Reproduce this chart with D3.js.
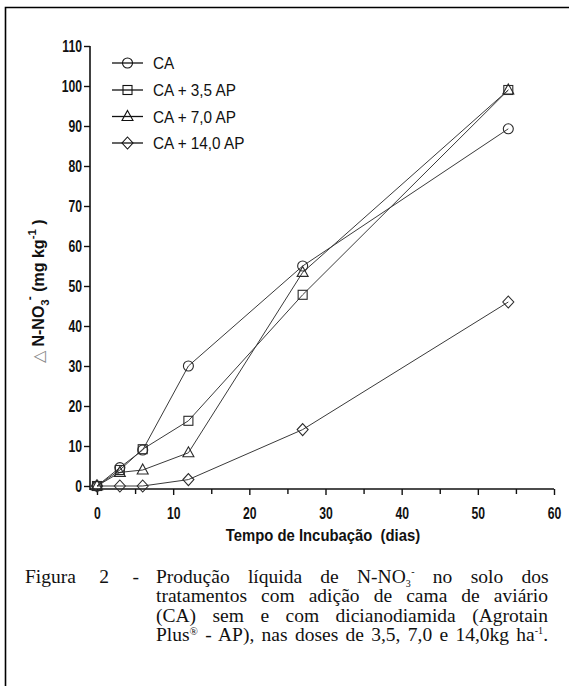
<!DOCTYPE html>
<html>
<head>
<meta charset="utf-8">
<script src="https://cdn.jsdelivr.net/npm/d3@7"></script>
<style>
  html, body { margin: 0; padding: 0; background: #fff; }
  svg { display: block; }
  .narrow { font-family: 'Liberation Sans Narrow', 'Arial Narrow', 'Liberation Sans', Arial, sans-serif; }
  .serif { font-family: 'Liberation Serif', 'Times New Roman', serif; }
</style>
</head>
<body>
<svg id="chart" width="569" height="686"></svg>
<script>
// ---- data ----
const days = [0, 3, 6, 12, 27, 54];
const seriesNames = ["CA", "CA + 3,5 AP", "CA + 7,0 AP", "CA + 14,0 AP"];
const seriesSymbols = ["circle", "square", "triangle", "diamond"];
const valuesCA    = [0, 4.6, 9.0, 30.0, 55.0, 89.3];
const valuesCA35  = [0, 4.0, 9.2, 16.3, 47.8, 99.0];
const valuesCA70  = [0, 3.4, 4.0, 8.3, 53.4, 99.0];
const valuesCA140 = [0, 0.0, 0.0, 1.6, 14.1, 46.0];
const yTicks = [0, 10, 20, 30, 40, 50, 60, 70, 80, 90, 100, 110];
const xTicks = [0, 10, 20, 30, 40, 50, 60];
const xMinorTicks = [5, 15, 25, 35, 45, 55];
const xTitle = "Tempo de Incubação  (dias)";
const captionLead = "Figura 2 -";
const captionLines = [
  "Produção líquida de N-NO",
  "tratamentos com adição de cama de aviário",
  "(CA) sem e com dicianodiamida (Agrotain",
  "Plus",
];

const allValues = [valuesCA, valuesCA35, valuesCA70, valuesCA140];

const svg = d3.select("#chart");

// horizontally condense text (Arial Narrow look)
function narrowify(sel, sx) {
  sel.each(function () {
    const t = d3.select(this);
    const x0 = +t.attr("x") || 0;
    const y0 = +t.attr("y") || 0;
    t.attr("x", 0).attr("y", 0).attr("transform", `translate(${x0},${y0}) scale(${sx},1)`);
  });
}

// border frame
svg.append("path")
  .attr("d", "M5.5,700 L5.5,7.5 L580,7.5")
  .attr("fill", "none").attr("stroke", "#000").attr("stroke-width", 1.6);

const x = d3.scaleLinear().domain([0, 60]).range([97, 554]);
const y = d3.scaleLinear().domain([0, 110]).range([486, 46]);
const axisY0 = 489; // x-axis line position
const axisX0 = 90;  // y-axis line position

// y axis
const yAxis = d3.axisLeft(y).tickValues(yTicks).tickSize(6).tickSizeOuter(0).tickPadding(2);
const gy = svg.append("g").attr("transform", `translate(${axisX0},0)`).call(yAxis);
gy.select(".domain").remove();
gy.selectAll(".tick line").attr("stroke", "#111").attr("stroke-width", 1.4);
gy.selectAll(".tick text")
  .attr("class", "narrow")
  .attr("font-size", 16.5).attr("font-weight", "bold").attr("fill", "#111");
narrowify(gy.selectAll(".tick text"), 0.74);
svg.append("line").attr("x1", axisX0).attr("x2", axisX0).attr("y1", y(110)).attr("y2", axisY0 + 1)
  .attr("stroke", "#111").attr("stroke-width", 1.6);

// x axis
const xAxis = d3.axisBottom(x).tickValues(xTicks).tickSize(6).tickSizeOuter(0).tickPadding(12);
const gx = svg.append("g").attr("transform", `translate(0,${axisY0})`).call(xAxis);
gx.select(".domain").remove();
gx.selectAll(".tick line").attr("stroke", "#111").attr("stroke-width", 1.4);
gx.selectAll(".tick text")
  .attr("class", "narrow")
  .attr("font-size", 16.5).attr("font-weight", "bold").attr("fill", "#111");
narrowify(gx.selectAll(".tick text"), 0.74);
const xMinor = d3.axisBottom(x).tickValues(xMinorTicks).tickSize(5).tickFormat("");
const gxm = svg.append("g").attr("transform", `translate(0,${axisY0})`).call(xMinor);
gxm.select(".domain").remove();
gxm.selectAll(".tick line").attr("stroke", "#111").attr("stroke-width", 1.4);
svg.append("line").attr("x1", axisX0).attr("x2", x(60)).attr("y1", axisY0).attr("y2", axisY0)
  .attr("stroke", "#111").attr("stroke-width", 1.6);

// x title
const xt = svg.append("text").attr("class", "narrow")
  .attr("x", 323).attr("y", 541).attr("text-anchor", "middle")
  .attr("font-size", 16.5).attr("font-weight", "bold").attr("fill", "#111")
  .attr("xml:space", "preserve")
  .text(xTitle);
narrowify(xt, 0.9);

// y title
const yt = svg.append("text").attr("class", "narrow")
  .attr("transform", "translate(44,363) rotate(-90)")
  .attr("text-anchor", "start").attr("font-size", 16).attr("font-weight", "bold").attr("fill", "#111");
yt.append("tspan").attr("font-weight", "normal").attr("fill", "#888").text("△ ");
yt.append("tspan").text("N-NO");
yt.append("tspan").attr("font-size", 11.5).attr("dy", 5).text("3");
yt.append("tspan").attr("font-size", 12).attr("dy", -15).attr("dx", -1).text("-");
yt.append("tspan").attr("dy", 10).text("  (mg kg");
yt.append("tspan").attr("font-size", 11.5).attr("dy", -8).text("-1");
yt.append("tspan").attr("dy", 8).text(" )");

// markers
function drawMarker(g, type, cx, cy) {
  if (type === "circle") {
    g.append("circle").attr("cx", cx).attr("cy", cy).attr("r", 5);
  } else if (type === "square") {
    g.append("rect").attr("x", cx - 4.5).attr("y", cy - 4.5).attr("width", 9).attr("height", 9);
  } else if (type === "triangle") {
    g.append("path").attr("d", `M${cx},${cy - 6} L${cx + 5.5},${cy + 4} L${cx - 5.5},${cy + 4} Z`);
  } else if (type === "diamond") {
    g.append("path").attr("d", `M${cx},${cy - 6} L${cx + 5.5},${cy} L${cx},${cy + 6} L${cx - 5.5},${cy} Z`);
  }
}

const line = d3.line().x((d, i) => x(days[i])).y(d => y(d));
allValues.forEach((vals) => {
  svg.append("path").datum(vals).attr("d", line)
    .attr("fill", "none").attr("stroke", "#3a3a3a").attr("stroke-width", 1);
});
allValues.forEach((vals, si) => {
  const g = svg.append("g").attr("fill", "none").attr("stroke", "#2a2a2a").attr("stroke-width", 1.1);
  vals.forEach((v, i) => drawMarker(g, seriesSymbols[si], x(days[i]), y(v)));
});

// legend
const legY = [63, 90, 116.5, 143];
seriesNames.forEach((name, i) => {
  svg.append("line").attr("x1", 112).attr("x2", 143).attr("y1", legY[i]).attr("y2", legY[i])
    .attr("stroke", "#111").attr("stroke-width", 1.3);
  const g = svg.append("g").attr("fill", "none").attr("stroke", "#111").attr("stroke-width", 1.1);
  drawMarker(g, seriesSymbols[i], 127.5, legY[i]);
  const t = svg.append("text").attr("class", "narrow").attr("x", 153).attr("y", legY[i] + 6)
    .attr("font-size", 17).attr("fill", "#111").text(name);
  narrowify(t, 0.9);
});

// caption
function justify(textSel, target) {
  const node = textSel.node();
  const w = node.getComputedTextLength();
  const str = node.textContent;
  const spaces = (str.match(/ /g) || []).length;
  if (spaces > 0 && w < target) textSel.attr("word-spacing", (target - w) / spaces);
}
const capFs = 19.5;
const capRight = 548;
const capLeft = 156;
const capY0 = 583;
const capDy = 19.3;
// lead "Figura 2 -"
const lead = svg.append("text").attr("class", "serif").attr("x", 25).attr("y", capY0)
  .attr("font-size", capFs).attr("fill", "#111").text(captionLead);
justify(lead, 139 - 25);
// line 1 (with sub/superscript)
const c1 = svg.append("text").attr("class", "serif").attr("x", capLeft).attr("y", capY0)
  .attr("font-size", capFs).attr("fill", "#111");
c1.append("tspan").text(captionLines[0]);
c1.append("tspan").attr("font-size", 10).attr("dy", 4).text("3");
c1.append("tspan").attr("font-size", 10).attr("dy", -12).attr("dx", 0.5).text("-");
c1.append("tspan").attr("dy", 8).text(" no solo dos");
justify(c1, capRight - capLeft);
// lines 2-3
[1, 2].forEach((k) => {
  const t = svg.append("text").attr("class", "serif").attr("x", capLeft).attr("y", capY0 + capDy * k)
    .attr("font-size", capFs).attr("fill", "#111").text(captionLines[k]);
  justify(t, capRight - capLeft);
});
// line 4
const c4 = svg.append("text").attr("class", "serif").attr("x", capLeft).attr("y", capY0 + capDy * 3)
  .attr("font-size", capFs).attr("fill", "#111");
c4.append("tspan").text(captionLines[3]);
c4.append("tspan").attr("font-size", 11).attr("dy", -6).text("®");
c4.append("tspan").attr("dy", 6).text(" - AP), nas doses de 3,5, 7,0 e 14,0kg ha");
c4.append("tspan").attr("font-size", 10).attr("dy", -7).text("-1");
c4.append("tspan").attr("dy", 7).text(".");
justify(c4, capRight - capLeft);
</script>
</body>
</html>
